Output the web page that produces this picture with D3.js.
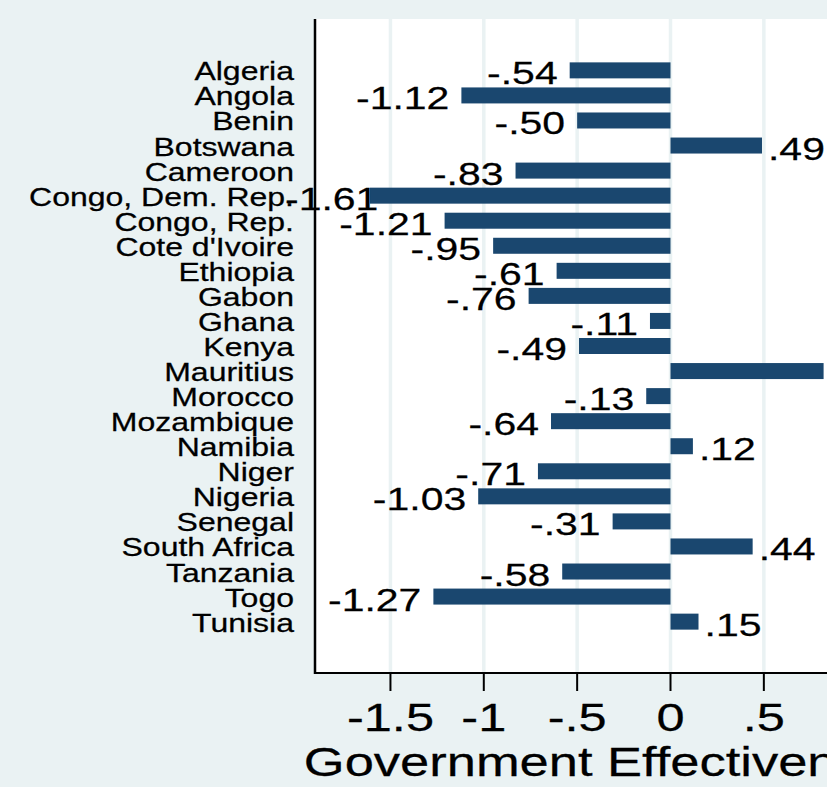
<!DOCTYPE html>
<html>
<head>
<meta charset="utf-8">
<script src="https://cdn.jsdelivr.net/npm/d3@7"></script>
<style>
  html, body { margin: 0; padding: 0; background: #eaf2f3; }
  svg { display: block; }
  text { font-family: "Liberation Sans", Arial, Helvetica, sans-serif; fill: #000; stroke: #000; stroke-width: 0.25; }
</style>
</head>
<body>
<svg id="chart" width="827" height="787"></svg>
<script>
// ---- data ----
const countries = ["Algeria","Angola","Benin","Botswana","Cameroon","Congo, Dem. Rep.","Congo, Rep.",
  "Cote d'Ivoire","Ethiopia","Gabon","Ghana","Kenya","Mauritius","Morocco","Mozambique","Namibia",
  "Niger","Nigeria","Senegal","South Africa","Tanzania","Togo","Tunisia"];
const govEffectiveness = [-0.54,-1.12,-0.50,0.49,-0.83,-1.61,-1.21,-0.95,-0.61,-0.76,-0.11,-0.49,0.82,
  -0.13,-0.64,0.12,-0.71,-1.03,-0.31,0.44,-0.58,-1.27,0.15];
const tickValues = [-1.5,-1,-0.5,0,0.5];
const tickLabels = ["-1.5","-1","-.5","0",".5"];
const axisTitle = "Government Effectiveness";

// ---- layout ----
const W = 827, H = 787;
const plot = {left: 315, right: 907, top: 19, bottom: 673};
const SX = 1.28; // horizontal stretch of text glyphs
const barColor = "#1a476f", bg = "#eaf2f3";

const svg = d3.select("#chart");
svg.append("rect").attr("width", W).attr("height", H).attr("fill", bg);

const x = d3.scaleLinear().domain([-1.5, 0.5]).range([390.45, 763.85]);
const y = d3.scalePoint().domain(countries).range([plot.top, plot.bottom]).padding(2.05);
const barH = 16;

// plot region
svg.append("rect").attr("x", plot.left).attr("y", plot.top)
  .attr("width", plot.right - plot.left).attr("height", plot.bottom - plot.top).attr("fill", "#fff");

// gridlines
svg.append("g").selectAll("line").data(tickValues.concat([1])).join("line")
  .attr("x1", d => x(d)).attr("x2", d => x(d))
  .attr("y1", plot.top).attr("y2", plot.bottom)
  .attr("stroke", bg).attr("stroke-width", 3.5);

const data = countries.map((c, i) => ({c, v: govEffectiveness[i]}));

// bars
svg.append("g").selectAll("rect").data(data).join("rect")
  .attr("x", d => Math.min(x(0), x(d.v)))
  .attr("width", d => Math.abs(x(d.v) - x(0)))
  .attr("y", d => y(d.c) - barH / 2)
  .attr("height", barH)
  .attr("fill", barColor);

function fmt(v) {
  let s = Math.abs(v).toFixed(2);
  if (s.startsWith("0")) s = s.slice(1);
  return (v < 0 ? "-" : "") + s;
}

function stretchedText(g, txt, size, anchor) {
  return g.append("text").attr("font-size", size).attr("text-anchor", anchor).text(txt);
}

// value labels
const lblG = svg.append("g");
const minLabelX = plot.left - 30;
data.forEach(d => {
  const g = lblG.append("g");
  const t = stretchedText(g, fmt(d.v), 32, "start");
  const w = t.node().getComputedTextLength() * SX;
  let x0;
  if (d.v < 0) {
    x0 = x(d.v) - 12 - w;
    if (x0 < minLabelX) x0 = minLabelX;
  } else {
    x0 = x(d.v) + 6;
  }
  g.attr("transform", `translate(${x0},${y(d.c) + 14}) scale(${SX},1)`);
});

// category labels
const catG = svg.append("g");
countries.forEach(c => {
  const g = catG.append("g").attr("transform", `translate(294,${y(c) + 10}) scale(${SX},1)`);
  stretchedText(g, c, 25, "end");
});

// axes lines
svg.append("line").attr("x1", plot.left).attr("x2", plot.left)
  .attr("y1", plot.top).attr("y2", plot.bottom + 1)
  .attr("stroke", "#000").attr("stroke-width", 2.5);
svg.append("line").attr("x1", plot.left - 1).attr("x2", plot.right)
  .attr("y1", plot.bottom).attr("y2", plot.bottom)
  .attr("stroke", "#000").attr("stroke-width", 2);

// ticks + tick labels
const tg = svg.append("g");
tickValues.forEach((v, i) => {
  tg.append("line").attr("x1", x(v)).attr("x2", x(v))
    .attr("y1", plot.bottom).attr("y2", plot.bottom + 18)
    .attr("stroke", "#000").attr("stroke-width", 2);
  const g = tg.append("g").attr("transform", `translate(${x(v)},731) scale(${SX},1)`);
  stretchedText(g, tickLabels[i], 39.5, "middle");
});

// axis title
const tt = svg.append("g").attr("transform", `translate(${(plot.left + plot.right) / 2},776) scale(${SX},1)`);
stretchedText(tt, axisTitle, 41, "middle");
</script>
</body>
</html>
